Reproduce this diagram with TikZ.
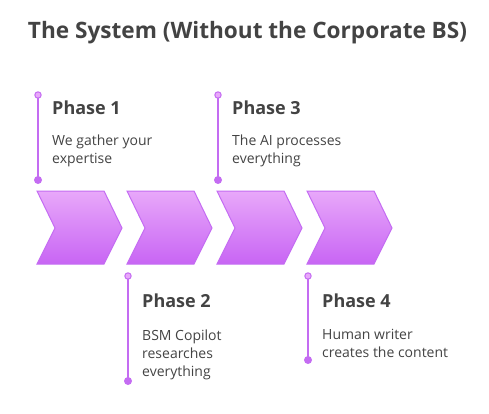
\documentclass[tikz,border=0pt]{standalone}
\usepackage{fontspec}
\setmainfont{Open Sans}
\usetikzlibrary{calc}

\definecolor{chevtop}{HTML}{E8A8FA}
\definecolor{chevbot}{HTML}{C865F4}
\definecolor{chevline}{HTML}{C46CF2}
\definecolor{txtgray}{HTML}{434343}

\begin{document}
\begin{tikzpicture}[x=1pt, y=-1pt,
    chevron/.style={draw=chevline, line width=1pt, top color=chevtop, bottom color=chevbot},
    phaseline/.style={draw=chevline, line width=1.5pt},
    enddot/.style={fill=chevline},
    startdot/.style={draw=chevline, fill=chevtop, line width=1pt},
    phasetitle/.style={anchor=base west, inner sep=0pt, text=txtgray,
      font=\bfseries\fontsize{18}{20}\selectfont},
    phasetext/.style={anchor=base west, inner sep=0pt, text=txtgray, align=left,
      font=\fontsize{14}{18}\selectfont}]
      % Рамка
      \useasboundingbox (0,0) rectangle (489,414);

      % Заголовок
      \node[anchor=base, inner sep=0pt, text=txtgray,
        font=\bfseries\fontsize{22.6}{24}\selectfont] (title) at (247.5,39)
        {The System (Without the Corporate BS)};

      % Шеврони
      \foreach \i in {0,...,3} {
        \draw[chevron] ({37+90*\i},191) -- ({104+90*\i},191) -- ({122+90*\i},228)
          -- ({104+90*\i},264) -- ({37+90*\i},264) -- ({55+90*\i},228) -- cycle;
      }

      % Верхні фази: 1 і 3
      \coordinate (s1) at (38,95);  \coordinate (e1) at (38,180);
      \coordinate (s3) at (218,95); \coordinate (e3) at (218,180);
      % Нижні фази: 2 і 4
      \coordinate (s2) at (128,276); \coordinate (e2) at (128,381);
      \coordinate (s4) at (308,276); \coordinate (e4) at (308,360);

      \foreach \p in {1,...,4} {
        \draw[phaseline] (s\p) -- (e\p);
        \fill[enddot] (e\p) circle (4);
        \filldraw[startdot] (s\p) circle (3.2);
      }

      % Тексти (base = остання стрічка)
      \node[phasetitle] (t1) at (52,115) {Phase 1};
      \node[phasetext] (d1) at (52,163.5) {We gather your\\expertise};
      \node[phasetitle] (t3) at (232,115) {Phase 3};
      \node[phasetext] (d3) at (232,163.5) {The AI processes\\everything};
      \node[phasetitle] (t2) at (142,307) {Phase 2};
      \node[phasetext] (d2) at (142,376) {BSM Copilot\\researches\\everything};
      \node[phasetitle] (t4) at (322,307) {Phase 4};
      \node[phasetext] (d4) at (322,357) {Human writer\\creates the content};
    \end{tikzpicture}
\end{document}
